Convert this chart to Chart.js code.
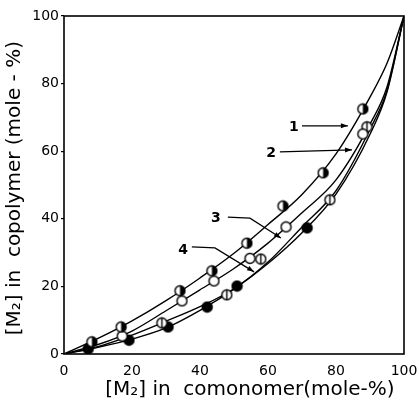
<!DOCTYPE html>
<html>
<head>
<meta charset="utf-8">
<script src="https://cdn.jsdelivr.net/npm/chart.js@4.4.1/dist/chart.umd.min.js"></script>
<style>
  html, body { margin: 0; padding: 0; background: #fff; }
  #wrap { width: 419px; height: 409px; position: relative; }
</style>
</head>
<body>
<div id="wrap"><canvas id="chart"></canvas></div>
<script>
// curves
const curveX = [0, 10, 20, 30, 40, 50, 60, 70, 80, 90, 95, 100];
const curve1 = [0, 4.6, 9.8, 15.8, 22.5, 29.8, 38.3, 47.2, 59.2, 76, 86, 100];
const curve2 = [0, 2.8, 6.8, 12.8, 19, 25.3, 32.8, 41.8, 51.5, 68, 79, 100];
const curve3 = [0, 2.2, 5.6, 9.7, 14, 19.3, 27.2, 37.6, 48.3, 66.5, 78, 100];
const curve4 = [0, 2, 4.4, 7.7, 12.9, 19.2, 26.8, 35.9, 47.3, 65, 77.5, 100];

// measured points
const halfX = [8.2, 16.8, 34.1, 43.5, 53.8, 64.4, 76.2, 87.9];
const halfY = [3.6, 8.0, 18.7, 24.6, 32.8, 43.8, 53.6, 72.5];
const openX = [17.1, 34.7, 44.1, 54.7, 65.3, 87.9];
const openY = [5.3, 15.7, 21.6, 28.3, 37.6, 65.1];
const barX = [28.8, 47.9, 57.9, 78.2, 89.1];
const barY = [9.2, 17.5, 28.1, 45.6, 67.2];
const fullX = [7.1, 19.1, 30.6, 42.1, 50.9, 71.5];
const fullY = [1.5, 4.1, 8.0, 13.9, 20.1, 37.3];

const xTicks = [0, 20, 40, 60, 80, 100];
const yTicks = [0, 20, 40, 60, 80, 100];

// curve labels with their leader lines, in data units
const labels = [
    { text: '1', at: [67.6, 67.2], path: [[70, 67.5], [83.5, 67.5]] },
    { text: '2', at: [60.9, 59.5], path: [[63.5, 59.8], [84.7, 60.4]] },
    { text: '3', at: [44.7, 40.2], path: [[48.2, 40.5], [54.7, 40.2], [63.8, 34.3]] },
    { text: '4', at: [35.0, 30.8], path: [[37.6, 31.7], [44.4, 31.4], [55.9, 24.3]] }
];

const pairs = (xs, ys) => xs.map((x, i) => ({ x: x, y: ys[i] }));

// marker images
function makeMarker(kind) {
    const c = document.createElement('canvas');
    c.width = 13; c.height = 13;
    const g = c.getContext('2d');
    const cx = 6.5, cy = 6.5, r = 5;
    g.fillStyle = '#fff';
    g.beginPath(); g.arc(cx, cy, r, 0, Math.PI * 2); g.fill();
    g.fillStyle = '#000';
    if (kind === 'full') {
        g.beginPath(); g.arc(cx, cy, r, 0, Math.PI * 2); g.fill();
    } else if (kind === 'half') {
        g.beginPath(); g.moveTo(cx, cy - r); g.arc(cx, cy, r, -Math.PI / 2, Math.PI / 2); g.closePath(); g.fill();
    }
    g.strokeStyle = '#000';
    g.lineWidth = 1.4;
    g.beginPath(); g.arc(cx, cy, r, 0, Math.PI * 2); g.stroke();
    if (kind === 'bar') {
        g.beginPath(); g.moveTo(cx, cy - r); g.lineTo(cx, cy + r); g.stroke();
    }
    return c;
}

const curveStyle = {
    showLine: true,
    borderColor: '#000',
    borderWidth: 1.4,
    pointRadius: 0,
    cubicInterpolationMode: 'monotone',
    fill: false,
    order: 2
};
const pointStyle = (kind) => ({
    showLine: false,
    pointStyle: makeMarker(kind),
    pointRadius: 6,
    order: 1
});

// frame and the curve labels
const framePlugin = {
    id: 'frame',
    afterDatasetsDraw(chart) {
        const { ctx, chartArea: a, scales } = chart;
        const px = (p) => [scales.x.getPixelForValue(p[0]), scales.y.getPixelForValue(p[1])];
        ctx.save();
        ctx.strokeStyle = '#000';
        ctx.lineWidth = 1.6;
        ctx.strokeRect(a.left, a.top, a.right - a.left, a.bottom - a.top);

        ctx.lineWidth = 1.2;
        ctx.fillStyle = '#000';
        ctx.font = 'bold 14px "DejaVu Sans"';
        ctx.textAlign = 'center';
        ctx.textBaseline = 'middle';
        labels.forEach(l => {
            const t = px(l.at);
            ctx.fillText(l.text, t[0], t[1]);
            const pts = l.path.map(px);
            ctx.beginPath();
            ctx.moveTo(pts[0][0], pts[0][1]);
            pts.slice(1).forEach(p => ctx.lineTo(p[0], p[1]));
            ctx.stroke();
            // arrow head
            const e = pts[pts.length - 1], s = pts[pts.length - 2];
            const ang = Math.atan2(e[1] - s[1], e[0] - s[0]);
            ctx.beginPath();
            ctx.moveTo(e[0], e[1]);
            ctx.lineTo(e[0] - 7 * Math.cos(ang) + 2.5 * Math.sin(ang), e[1] - 7 * Math.sin(ang) - 2.5 * Math.cos(ang));
            ctx.lineTo(e[0] - 7 * Math.cos(ang) - 2.5 * Math.sin(ang), e[1] - 7 * Math.sin(ang) + 2.5 * Math.cos(ang));
            ctx.closePath();
            ctx.fill();
        });
        ctx.restore();
    }
};

new Chart(document.getElementById('chart'), {
    type: 'scatter',
    data: {
        datasets: [
            { ...curveStyle, data: pairs(curveX, curve1) },
            { ...curveStyle, data: pairs(curveX, curve2) },
            { ...curveStyle, data: pairs(curveX, curve3) },
            { ...curveStyle, data: pairs(curveX, curve4) },
            { ...pointStyle('half'), data: pairs(halfX, halfY) },
            { ...pointStyle('open'), data: pairs(openX, openY) },
            { ...pointStyle('bar'), data: pairs(barX, barY) },
            { ...pointStyle('full'), data: pairs(fullX, fullY) }
        ]
    },
    options: {
        responsive: true,
        maintainAspectRatio: false,
        animation: false,
        layout: { padding: { top: 16, right: 15, left: 0, bottom: 0 } },
        plugins: { legend: { display: false }, tooltip: { enabled: false } },
        scales: {
            x: {
                type: 'linear', min: 0, max: 100,
                afterFit: (s) => { s.height = 55; },
                afterBuildTicks: (s) => { s.ticks = xTicks.map(v => ({ value: v })); },
                grid: { display: false },
                border: { display: false },
                ticks: { color: '#000', padding: 1, maxRotation: 0, font: { family: 'DejaVu Sans', size: 14 } },
                title: {
                    display: true,
                    text: '\u00a0\u00a0\u00a0\u00a0\u00a0[M\u2082] in  comonomer(mole-%)',
                    color: '#000',
                    font: { family: 'DejaVu Sans', size: 20 },
                    padding: { bottom: 7 }
                }
            },
            y: {
                type: 'linear', min: 0, max: 100,
                afterFit: (s) => { s.width = 64; },
                afterBuildTicks: (s) => { s.ticks = yTicks.map(v => ({ value: v })); },
                grid: { drawOnChartArea: false, tickLength: 3, color: '#000', lineWidth: 1.2 },
                border: { display: false },
                ticks: { color: '#000', padding: 2, font: { family: 'DejaVu Sans', size: 14 } },
                title: {
                    display: true,
                    text: '[M\u2082] in  copolymer (mole - %)\u00a0',
                    color: '#000',
                    font: { family: 'DejaVu Sans', size: 20 },
                    padding: { top: 3 }
                }
            }
        }
    },
    plugins: [framePlugin]
});
</script>
</body>
</html>
